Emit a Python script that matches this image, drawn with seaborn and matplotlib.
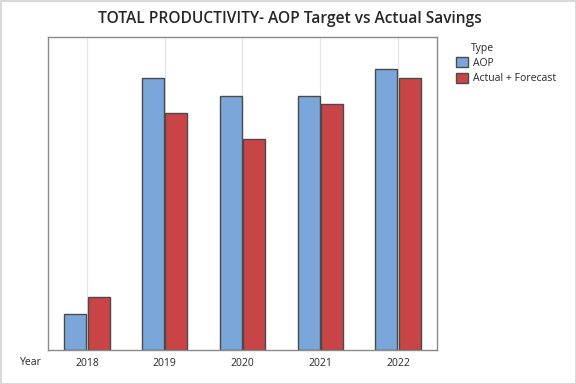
import pandas as pd
import matplotlib.pyplot as plt
import seaborn as sns

years = ["2018", "2019", "2020", "2021", "2022"]
aop = [36, 272, 254, 254, 281]
actual = [53, 237, 211, 246, 272]
types = ["AOP", "Actual + Forecast"]

df = pd.DataFrame({
    "Year": years * 2,
    "Value": aop + actual,
    "Type": [types[0]] * 5 + [types[1]] * 5,
})

sns.set_style("white")
plt.rcParams["font.family"] = ["Open Sans", "DejaVu Sans"]

fig = plt.figure(figsize=(5.76, 3.84), dpi=100)
fig.patch.set_edgecolor("#d9d9d9")
fig.patch.set_linewidth(2)
ax = fig.add_axes([0.0833, 0.0885, 0.6754, 0.8151])

sns.barplot(data=df, x="Year", y="Value", hue="Type", hue_order=types,
            palette=["#7BA6D9", "#C84446"], saturation=1, width=0.6, gap=0.06,
            edgecolor="#4a4a4a", linewidth=1, ax=ax)

ax.set_ylim(0, 313)
ax.set_xlim(-0.5, 4.5)
ax.set_yticks([])
for i in range(len(years)):
    ax.axvline(i, color="#e3e3e3", lw=0.8, zorder=0)
ax.set_axisbelow(True)
for s in ax.spines.values():
    s.set_color("#8a8a8a")
    s.set_linewidth(1)
ax.tick_params(axis="x", length=3, color="#8a8a8a", labelsize=7.5, pad=3)
ax.set_xlabel("")
ax.set_ylabel("")
fig.text(0.035, 0.057, "Year", fontsize=7.5, ha="left", va="center")

fig.suptitle("TOTAL PRODUCTIVITY- AOP Target vs Actual Savings",
             x=0.503, y=0.95, fontsize=11.2, fontweight="semibold", va="center")

handles, labels = ax.get_legend_handles_labels()
ax.legend(handles, labels, loc="upper left", bbox_to_anchor=(0.792, 0.852),
          bbox_transform=fig.transFigure, frameon=False, fontsize=7.5,
          handlelength=1.15, handleheight=1.15, handletextpad=0.45,
          labelspacing=0.4, borderaxespad=0, borderpad=0)
fig.text(0.818, 0.875, "Type", fontsize=7.5, ha="left", va="center")

fig.savefig("out.png", dpi=100)
